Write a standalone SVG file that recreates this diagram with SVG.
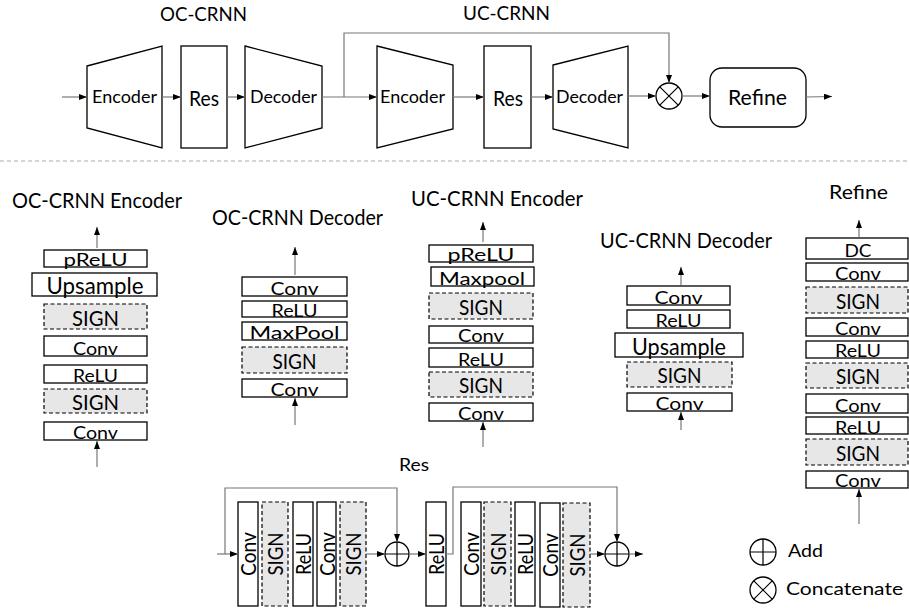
<svg xmlns="http://www.w3.org/2000/svg" width="909" height="612" viewBox="0 0 909 612">
<style>
text{font-family:Lato,"Open Sans","Liberation Sans",sans-serif;fill:#000;text-anchor:middle}
.b{fill:#fff;stroke:#000;stroke-width:1.3}
.s{fill:#e7e7e7;stroke:#000;stroke-width:1.2;stroke-dasharray:4 2.5}
.c{fill:none;stroke:#777;stroke-width:1.2}
.a{marker-end:url(#ah)}
.op{fill:#fff;stroke:#000;stroke-width:1.3}
.st{font-size:18px}
.sg{font-size:21px}
.ti{font-size:20.5px}
.vt{font-size:21px}
</style>
<defs>
<marker id="ah" viewBox="0 0 8 6" refX="8" refY="3" markerWidth="8" markerHeight="6" markerUnits="userSpaceOnUse" orient="auto"><path d="M0,0 L8,3 L0,6 z" fill="#000"/></marker>
</defs>

<!-- separator -->
<line x1="0" y1="161" x2="909" y2="161" stroke="#aaa" stroke-width="1.2" stroke-dasharray="4 3"/>

<!-- top row -->
<text x="203.5" y="21" font-size="19.5" textLength="87" lengthAdjust="spacingAndGlyphs">OC-CRNN</text>
<text x="506.5" y="20" font-size="19.5" textLength="87" lengthAdjust="spacingAndGlyphs">UC-CRNN</text>

<g id="oc-encoder">
<polygon class="b" points="87,66 162,46 162,148 87,128"/>
<text x="124.5" y="103" font-size="17" textLength="65" lengthAdjust="spacingAndGlyphs">Encoder</text>
</g>
<g id="oc-res">
<rect class="b" x="181" y="46" width="46" height="102"/>
<text x="204" y="106" font-size="22" textLength="30" lengthAdjust="spacingAndGlyphs">Res</text>
</g>
<g id="oc-decoder">
<polygon class="b" points="245,46 322,66 322,128 245,148"/>
<text x="283.5" y="103" font-size="17" textLength="67" lengthAdjust="spacingAndGlyphs">Decoder</text>
</g>
<g id="uc-encoder">
<polygon class="b" points="377,46 453,65 453,129 377,148"/>
<text x="412.5" y="103" font-size="17" textLength="65" lengthAdjust="spacingAndGlyphs">Encoder</text>
</g>
<g id="uc-res">
<rect class="b" x="484" y="46" width="47" height="102"/>
<text x="508" y="106" font-size="22" textLength="30" lengthAdjust="spacingAndGlyphs">Res</text>
</g>
<g id="uc-decoder">
<polygon class="b" points="553,65 628,46 628,148 553,129"/>
<text x="589.5" y="103" font-size="17" textLength="67" lengthAdjust="spacingAndGlyphs">Decoder</text>
</g>
<g id="concat">
<circle class="op" cx="669" cy="96" r="13"/>
<path d="M659.8,86.8 L678.2,105.2 M678.2,86.8 L659.8,105.2" stroke="#000" stroke-width="1.2"/>
</g>
<g id="refine">
<rect class="b" x="710" y="68" width="96" height="59" rx="12"/>
<text x="757.5" y="105" font-size="21" textLength="59" lengthAdjust="spacingAndGlyphs">Refine</text>
</g>

<!-- OC-CRNN Encoder stack -->
<g id="oc-enc-detail">
<text class="ti" x="97" y="208" textLength="170" lengthAdjust="spacingAndGlyphs">OC-CRNN Encoder</text>
<rect class="b" x="44" y="250" width="103" height="17"/><text class="st" x="95.5" y="266" textLength="64" lengthAdjust="spacingAndGlyphs">pReLU</text>
<rect class="b" x="32" y="273" width="125" height="23"/><text x="95" y="294" font-size="23" textLength="97" lengthAdjust="spacingAndGlyphs">Upsample</text>
<rect class="s" x="44" y="304" width="103" height="25"/><text class="sg" x="95.5" y="326" textLength="47" lengthAdjust="spacingAndGlyphs">SIGN</text>
<rect class="b" x="44" y="336" width="103" height="20"/><text class="st" x="95.5" y="355" textLength="45" lengthAdjust="spacingAndGlyphs">Conv</text>
<rect class="b" x="44" y="365" width="103" height="18"/><text class="st" x="95.5" y="382" textLength="45" lengthAdjust="spacingAndGlyphs">ReLU</text>
<rect class="s" x="44" y="389" width="103" height="24"/><text class="sg" x="95.5" y="410" textLength="47" lengthAdjust="spacingAndGlyphs">SIGN</text>
<rect class="b" x="44" y="422" width="103" height="18"/><text class="st" x="95.5" y="439" textLength="45" lengthAdjust="spacingAndGlyphs">Conv</text>
</g>

<!-- OC-CRNN Decoder stack -->
<g id="oc-dec-detail">
<text class="ti" x="297.5" y="225" textLength="171" lengthAdjust="spacingAndGlyphs">OC-CRNN Decoder</text>
<rect class="b" x="242" y="277" width="105" height="19"/><text class="st" x="294.5" y="294.5" textLength="48" lengthAdjust="spacingAndGlyphs">Conv</text>
<rect class="b" x="242" y="301" width="105" height="16"/><text class="st" x="294.5" y="316.5" textLength="46" lengthAdjust="spacingAndGlyphs">ReLU</text>
<rect class="b" x="242" y="322" width="105" height="18"/><text class="st" x="294.5" y="339" textLength="90" lengthAdjust="spacingAndGlyphs">MaxPool</text>
<rect class="s" x="242" y="347" width="105" height="26"/><text class="sg" x="294.5" y="369" textLength="44" lengthAdjust="spacingAndGlyphs">SIGN</text>
<rect class="b" x="242" y="379" width="105" height="18"/><text class="st" x="294.5" y="396" textLength="48" lengthAdjust="spacingAndGlyphs">Conv</text>
</g>

<!-- UC-CRNN Encoder stack -->
<g id="uc-enc-detail">
<text class="ti" x="497" y="206" textLength="172" lengthAdjust="spacingAndGlyphs">UC-CRNN Encoder</text>
<rect class="b" x="429" y="245" width="104" height="17"/><text class="st" x="481" y="261" textLength="67" lengthAdjust="spacingAndGlyphs">pReLU</text>
<rect class="b" x="431" y="267" width="103" height="19"/><text class="st" x="482" y="285" textLength="86" lengthAdjust="spacingAndGlyphs">Maxpool</text>
<rect class="s" x="429" y="293" width="104" height="26"/><text class="sg" x="481" y="315" textLength="44" lengthAdjust="spacingAndGlyphs">SIGN</text>
<rect class="b" x="429" y="326" width="104" height="17"/><text class="st" x="481" y="342" textLength="46" lengthAdjust="spacingAndGlyphs">Conv</text>
<rect class="b" x="429" y="348" width="104" height="19"/><text class="st" x="481" y="366" textLength="46" lengthAdjust="spacingAndGlyphs">ReLU</text>
<rect class="s" x="429" y="372" width="104" height="25"/><text class="sg" x="481" y="393" textLength="44" lengthAdjust="spacingAndGlyphs">SIGN</text>
<rect class="b" x="429" y="403" width="104" height="18"/><text class="st" x="481" y="420" textLength="46" lengthAdjust="spacingAndGlyphs">Conv</text>
</g>

<!-- UC-CRNN Decoder stack -->
<g id="uc-dec-detail">
<text class="ti" x="686" y="248" textLength="172" lengthAdjust="spacingAndGlyphs">UC-CRNN Decoder</text>
<rect class="b" x="627" y="286" width="103" height="19"/><text class="st" x="678.5" y="304" textLength="48" lengthAdjust="spacingAndGlyphs">Conv</text>
<rect class="b" x="627" y="310" width="103" height="18"/><text class="st" x="678.5" y="327" textLength="46" lengthAdjust="spacingAndGlyphs">ReLU</text>
<rect class="b" x="615" y="333" width="128" height="24"/><text x="679" y="355" font-size="23" textLength="94" lengthAdjust="spacingAndGlyphs">Upsample</text>
<rect class="s" x="627" y="362" width="105" height="25"/><text class="sg" x="679.5" y="383" textLength="44" lengthAdjust="spacingAndGlyphs">SIGN</text>
<rect class="b" x="627" y="393" width="105" height="18"/><text class="st" x="679.5" y="410" textLength="48" lengthAdjust="spacingAndGlyphs">Conv</text>
</g>

<!-- Refine stack -->
<g id="refine-detail">
<text x="858.5" y="199" font-size="20" textLength="59" lengthAdjust="spacingAndGlyphs">Refine</text>
<rect class="b" x="806" y="238" width="102" height="21"/><text class="st" x="858" y="257" textLength="27" lengthAdjust="spacingAndGlyphs">DC</text>
<rect class="b" x="806" y="263" width="102" height="18"/><text class="st" x="858" y="280" textLength="46" lengthAdjust="spacingAndGlyphs">Conv</text>
<rect class="s" x="806" y="287" width="102" height="26"/><text class="sg" x="858" y="309" textLength="44" lengthAdjust="spacingAndGlyphs">SIGN</text>
<rect class="b" x="806" y="318" width="102" height="18"/><text class="st" x="858" y="335" textLength="46" lengthAdjust="spacingAndGlyphs">Conv</text>
<rect class="b" x="806" y="341" width="102" height="17"/><text class="st" x="858" y="357" textLength="46" lengthAdjust="spacingAndGlyphs">ReLU</text>
<rect class="s" x="806" y="363" width="102" height="25"/><text class="sg" x="858" y="384" textLength="44" lengthAdjust="spacingAndGlyphs">SIGN</text>
<rect class="b" x="806" y="394" width="102" height="19"/><text class="st" x="858" y="411.5" textLength="46" lengthAdjust="spacingAndGlyphs">Conv</text>
<rect class="b" x="806" y="417" width="102" height="17"/><text class="st" x="858" y="433.5" textLength="46" lengthAdjust="spacingAndGlyphs">ReLU</text>
<rect class="s" x="806" y="439" width="102" height="26"/><text class="sg" x="858" y="461" textLength="44" lengthAdjust="spacingAndGlyphs">SIGN</text>
<rect class="b" x="806" y="471" width="102" height="17"/><text class="st" x="858" y="487" textLength="46" lengthAdjust="spacingAndGlyphs">Conv</text>
</g>

<!-- Res block -->
<g id="res-detail">
<text x="414" y="471" font-size="18" textLength="30" lengthAdjust="spacingAndGlyphs">Res</text>
<rect class="b" x="238" y="502" width="20" height="104"/><text class="vt" transform="translate(238,554) rotate(-90)" x="0" y="18" textLength="44" lengthAdjust="spacingAndGlyphs">Conv</text>
<rect class="s" x="262" y="502" width="26" height="104"/><text class="vt" transform="translate(262,554) rotate(-90)" x="0" y="21" textLength="43" lengthAdjust="spacingAndGlyphs">SIGN</text>
<rect class="b" x="293" y="502" width="20" height="104"/><text class="vt" transform="translate(293,554) rotate(-90)" x="0" y="18" textLength="42" lengthAdjust="spacingAndGlyphs">ReLU</text>
<rect class="b" x="317" y="502" width="19" height="104"/><text class="vt" transform="translate(317,554) rotate(-90)" x="0" y="17.5" textLength="44" lengthAdjust="spacingAndGlyphs">Conv</text>
<rect class="s" x="340" y="502" width="26" height="104"/><text class="vt" transform="translate(340,554) rotate(-90)" x="0" y="21" textLength="43" lengthAdjust="spacingAndGlyphs">SIGN</text>
<rect class="b" x="426" y="502" width="20" height="104"/><text class="vt" transform="translate(426,554) rotate(-90)" x="0" y="18" textLength="42" lengthAdjust="spacingAndGlyphs">ReLU</text>
<rect class="b" x="461" y="502" width="20" height="104"/><text class="vt" transform="translate(461,554) rotate(-90)" x="0" y="18" textLength="44" lengthAdjust="spacingAndGlyphs">Conv</text>
<rect class="s" x="484" y="502" width="27" height="104"/><text class="vt" transform="translate(484,554) rotate(-90)" x="0" y="21.5" textLength="43" lengthAdjust="spacingAndGlyphs">SIGN</text>
<rect class="b" x="515" y="502" width="20" height="104"/><text class="vt" transform="translate(515,554) rotate(-90)" x="0" y="18" textLength="42" lengthAdjust="spacingAndGlyphs">ReLU</text>
<rect class="b" x="540" y="503" width="20" height="104"/><text class="vt" transform="translate(540,555) rotate(-90)" x="0" y="18" textLength="44" lengthAdjust="spacingAndGlyphs">Conv</text>
<rect class="s" x="563" y="503" width="27" height="104"/><text class="vt" transform="translate(563,555) rotate(-90)" x="0" y="21.5" textLength="43" lengthAdjust="spacingAndGlyphs">SIGN</text>
</g>
<g id="add-1">
<circle class="op" cx="397" cy="554" r="12"/>
<path d="M385,554 H409 M397,542 V566" stroke="#000" stroke-width="1.2"/>
</g>
<g id="add-2">
<circle class="op" cx="617" cy="554" r="12"/>
<path d="M605,554 H629 M617,542 V566" stroke="#000" stroke-width="1.2"/>
</g>

<!-- legend -->
<g id="legend">
<circle class="op" cx="763" cy="552" r="13"/>
<path d="M750,552 H776 M763,539 V565" stroke="#000" stroke-width="1.2"/>
<text x="788" y="557" font-size="18" style="text-anchor:start" textLength="35" lengthAdjust="spacingAndGlyphs">Add</text>
<circle class="op" cx="763" cy="590" r="13"/>
<path d="M753.8,580.8 L772.2,599.2 M772.2,580.8 L753.8,599.2" stroke="#000" stroke-width="1.2"/>
<text x="786" y="595" font-size="18" style="text-anchor:start" textLength="117" lengthAdjust="spacingAndGlyphs">Concatenate</text>
</g>

<!-- connectors -->
<g id="connectors">
<line class="c a" x1="62" y1="97" x2="87" y2="97"/>
<line class="c a" x1="162" y1="97" x2="181" y2="97"/>
<line class="c a" x1="227" y1="97" x2="245" y2="97"/>
<line class="c a" x1="322" y1="97" x2="377" y2="97"/>
<polyline class="c a" points="344,97 344,33 669,33 669,83"/>
<line class="c a" x1="453" y1="97" x2="484" y2="97"/>
<line class="c a" x1="531" y1="97" x2="553" y2="97"/>
<line class="c a" x1="628" y1="96" x2="656" y2="96"/>
<line class="c a" x1="682" y1="96" x2="710" y2="96"/>
<line class="c a" x1="806" y1="97" x2="832" y2="96.5"/>

<line class="c a" x1="97" y1="248" x2="97" y2="227"/>
<line class="c a" x1="97" y1="467" x2="97" y2="441"/>
<line class="c a" x1="295" y1="275" x2="295" y2="247"/>
<line class="c a" x1="295" y1="425" x2="295" y2="398"/>
<line class="c a" x1="483" y1="242" x2="483" y2="222"/>
<line class="c a" x1="483" y1="447" x2="483" y2="422"/>
<line class="c a" x1="681" y1="285" x2="681" y2="267"/>
<line class="c a" x1="681" y1="430" x2="681" y2="412"/>
<line class="c a" x1="859" y1="237" x2="859" y2="220"/>
<line class="c a" x1="859" y1="524" x2="859" y2="489"/>

<line class="c a" x1="217" y1="554" x2="238" y2="554"/>
<polyline class="c a" points="225,554 225,488 397,488 397,542"/>
<line class="c a" x1="366" y1="554" x2="385" y2="554"/>
<line class="c a" x1="409" y1="554" x2="426" y2="554"/>
<polyline class="c a" points="446,554 453,554 453,487 617,487 617,542"/>
<line class="c a" x1="590" y1="554" x2="605" y2="554"/>
<line class="c a" x1="629" y1="554" x2="643" y2="554"/>
</g>
</svg>
